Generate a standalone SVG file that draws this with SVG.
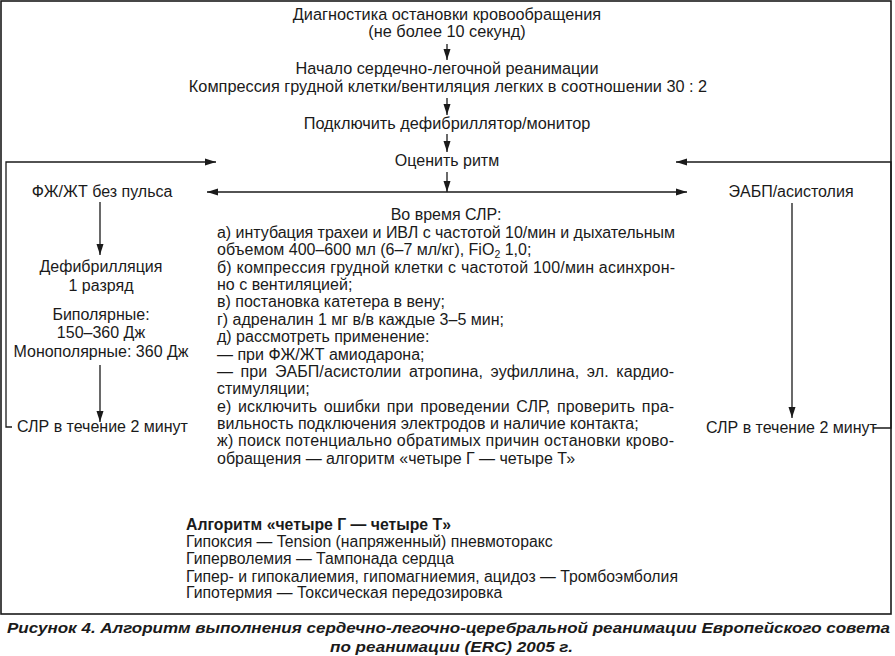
<svg xmlns="http://www.w3.org/2000/svg" width="895" height="656" viewBox="0 0 895 656">
<style>
text{font-family:"Liberation Sans",Arial,sans-serif;fill:#1a1a1a;font-size:16px}
.c{text-anchor:middle}
.t{font-size:16.3px}
.s{font-size:15.8px}
.b{font-weight:bold}
.cap{font-weight:bold;font-style:italic;font-size:15.5px;text-anchor:middle}
.ln{fill:none;stroke:#1a1a1a;stroke-width:1.3}
.frame{fill:none;stroke:#1a1a1a;stroke-width:1.6}
</style>
<defs>
<marker id="ah" markerUnits="userSpaceOnUse" markerWidth="12" markerHeight="8" refX="11" refY="4" orient="auto-start-reverse">
<path d="M0,0.5 L11,4 L0,7.5 Z" fill="#1a1a1a"/>
</marker>
</defs>
<rect class="frame" x="1" y="1" width="890" height="613"/>
<g id="connectors">
<path class="ln" d="M447,44 V60" marker-end="url(#ah)"/>
<path class="ln" d="M447,98 V115" marker-end="url(#ah)"/>
<path class="ln" d="M447,134 V152" marker-end="url(#ah)"/>
<path class="ln" d="M447,172 V192" marker-end="url(#ah)"/>
<path class="ln" d="M207,192 H687" marker-start="url(#ah)" marker-end="url(#ah)"/>
<path class="ln" d="M100,202 V255" marker-end="url(#ah)"/>
<path class="ln" d="M100,365 V422" marker-end="url(#ah)"/>
<path class="ln" d="M792,203 V418" marker-end="url(#ah)"/>
<path class="ln" d="M12,427 H6 V162 H216" marker-end="url(#ah)"/>
<path class="ln" d="M873,428 H891 V162 H676" marker-end="url(#ah)"/>
</g>
<g id="n-diag"><text class="c t" x="447" y="20">Диагностика остановки кровообращения</text><text class="c t" x="447" y="37">(не более 10 секунд)</text></g>
<g id="n-start"><text class="c t" x="447" y="74">Начало сердечно-легочной реанимации</text><text class="c t" x="448" y="92">Компрессия грудной клетки/вентиляция легких в соотношении 30 : 2</text></g>
<g id="n-defib-connect"><text class="c t" x="447" y="129">Подключить дефибриллятор/монитор</text></g>
<g id="n-rhythm"><text class="c" x="447" y="166">Оценить ритм</text></g>
<g id="n-vf"><text class="c" x="102" y="197">ФЖ/ЖТ без пульса</text></g>
<g id="n-asys"><text class="c" x="791" y="197">ЭАБП/асистолия</text></g>
<g id="n-shock"><text class="c" x="101" y="272">Дефибрилляция</text><text class="c" x="101" y="291">1 разряд</text><text class="c" x="101" y="320">Биполярные:</text><text class="c" x="101" y="338">150–360 Дж</text><text class="c" x="101" y="357">Монополярные: 360 Дж</text></g>
<g id="n-cpr-left"><text x="17" y="432">СЛР в течение 2 минут</text></g>
<g id="n-cpr-right"><text x="706" y="433">СЛР в течение 2 минут</text></g>
<g id="n-during">
<text class="c" x="446" y="220">Во время СЛР:</text>
<text x="217" y="238" textLength="458" lengthAdjust="spacing">а) интубация трахеи и ИВЛ с частотой 10/мин и дыхательным</text>
<text x="217" y="255">объемом 400–600 мл (6–7 мл/кг), FiO<tspan font-size="10.5" dy="3">2</tspan><tspan dy="-3"> 1,0;</tspan></text>
<text x="217" y="273" textLength="458" lengthAdjust="spacing">б) компрессия грудной клетки с частотой 100/мин асинхрон-</text>
<text x="217" y="290">но с вентиляцией;</text>
<text x="217" y="307">в) постановка катетера в вену;</text>
<text x="217" y="325">г) адреналин 1 мг в/в каждые 3–5 мин;</text>
<text x="217" y="342">д) рассмотреть применение:</text>
<text x="217" y="360">— при ФЖ/ЖТ амиодарона;</text>
<text x="217" y="377" textLength="457" lengthAdjust="spacing" word-spacing="3">— при ЭАБП/асистолии атропина, эуфиллина, эл. кардио-</text>
<text x="217" y="394">стимуляции;</text>
<text x="217" y="412" textLength="457" lengthAdjust="spacing" word-spacing="2">е) исключить ошибки при проведении СЛР, проверить пра-</text>
<text x="217" y="429">вильность подключения электродов и наличие контакта;</text>
<text x="217" y="446" textLength="457" lengthAdjust="spacing">ж) поиск потенциально обратимых причин остановки крово-</text>
<text x="217" y="464">обращения — алгоритм «четыре Г — четыре Т»</text>
</g>
<g id="n-4h4t">
<text class="b s" x="186" y="530">Алгоритм «четыре Г — четыре Т»</text>
<text class="s" x="186" y="547">Гипоксия — Tension (напряженный) пневмоторакс</text>
<text class="s" x="186" y="564">Гиперволемия — Тампонада сердца</text>
<text class="s" x="186" y="582">Гипер- и гипокалиемия, гипомагниемия, ацидоз — Тромбоэмболия</text>
<text class="s" x="186" y="598">Гипотермия — Токсическая передозировка</text>
</g>
<g id="caption">
<text class="cap" x="448.5" y="633" textLength="883" lengthAdjust="spacingAndGlyphs">Рисунок 4. Алгоритм выполнения сердечно-легочно-церебральной реанимации Европейского совета</text>
<text class="cap" x="451.5" y="652" textLength="243" lengthAdjust="spacingAndGlyphs">по реанимации (ERC) 2005 г.</text>
</g>
</svg>
